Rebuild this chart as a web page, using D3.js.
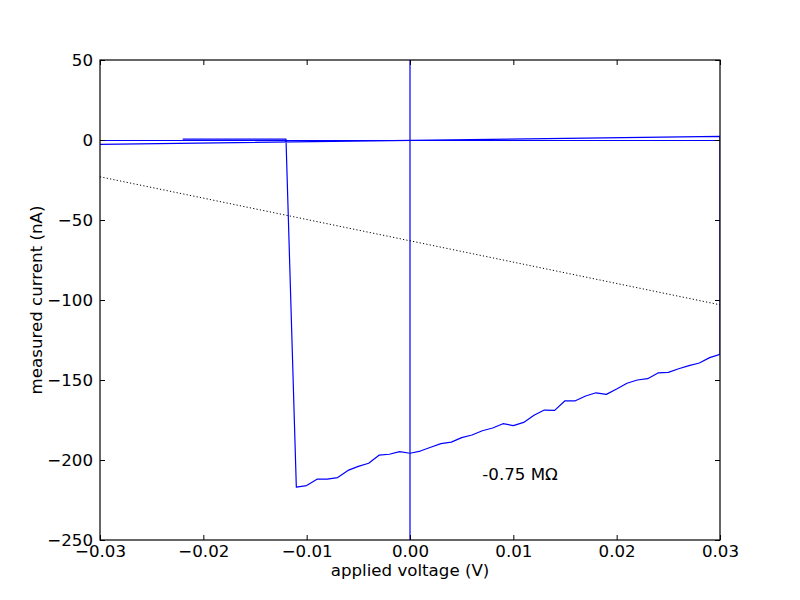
<!DOCTYPE html>
<html>
<head>
<meta charset="utf-8">
<script src="https://cdn.jsdelivr.net/npm/d3@7"></script>
<style>
  body { margin: 0; background: #fff; }
  svg text { font-family: "DejaVu Sans", sans-serif; }
</style>
</head>
<body>
<div id="chart"><svg></svg></div>
<script>
// sweep: plateau, jump, rising branch, back up at +30 mV, return line
var voltage = [
  -0.022, -0.012, -0.011, -0.010, -0.009, -0.008, -0.007, -0.006, -0.005,
  -0.004, -0.003, -0.002, -0.001, 0.000, 0.001, 0.002, 0.003, 0.004, 0.005,
  0.006, 0.007, 0.008, 0.009, 0.010, 0.011, 0.012, 0.013, 0.014, 0.015,
  0.016, 0.017, 0.018, 0.019, 0.020, 0.021, 0.022, 0.023, 0.024, 0.025,
  0.026, 0.027, 0.028, 0.029, 0.030, 0.030, -0.030
];
var current = [
  0.5, 0.5, -217, -216, -212, -212, -211, -206.5, -204,
  -202, -197, -196.4, -194.8, -195.8, -194.4, -192, -189.8, -188.8, -186,
  -184.4, -181.7, -180, -177.3, -178.5, -176.5, -172, -168.8, -169, -163,
  -163, -160, -158, -159, -155.6, -152, -150, -149.2, -145.6, -145.2,
  -143, -141, -139.4, -136, -134, 2.3, -2.7
];

// linear fit shown dotted
var fitVoltage = [-0.03, 0.03];
var fitCurrent = [-23, -103];

var xTicks = [-0.03, -0.02, -0.01, 0.0, 0.01, 0.02, 0.03];
var yTicks = [-250, -200, -150, -100, -50, 0, 50];

var note = "-0.75 MΩ";
var noteAt = [0.007, -212.5];

var margin = { top: 60, right: 80, bottom: 60, left: 100 };
var width = 800 - margin.left - margin.right;
var height = 600 - margin.top - margin.bottom;
var fontSize = "16.67px";

var svg = d3.select("#chart > svg")
  .attr("width", 800)
  .attr("height", 600);

var g = svg.append("g")
  .attr("transform", `translate(${margin.left}, ${margin.top})`);

var x = d3.scaleLinear().domain([-0.03, 0.03]).range([0, width]);
var y = d3.scaleLinear().domain([-250, 50]).range([height, 0]);

var fmtMinus = s => s.replace("-", "\u2212");

// clip for data lines
g.append("clipPath").attr("id", "clip")
  .append("rect").attr("width", width).attr("height", height);

var plot = g.append("g").attr("clip-path", "url(#clip)");

// zero lines
plot.append("line")
  .attr("x1", 0).attr("x2", width)
  .attr("y1", y(0) + 0.5).attr("y2", y(0) + 0.5)
  .attr("stroke", "#0000ff").attr("stroke-width", 1.2);
plot.append("line")
  .attr("x1", x(0)).attr("x2", x(0))
  .attr("y1", 0).attr("y2", height)
  .attr("stroke", "#0000ff").attr("stroke-width", 1.2);

var pts = voltage.map((v, i) => [v, current[i]]);
plot.append("path")
  .datum(pts)
  .attr("fill", "none")
  .attr("stroke", "#0000ff")
  .attr("stroke-width", 1.2)
  .attr("stroke-linejoin", "round")
  .attr("d", d3.line().x(d => x(d[0])).y(d => y(d[1])));

var fitPts = fitVoltage.map((v, i) => [v, fitCurrent[i]]);
plot.append("path")
  .datum(fitPts)
  .attr("fill", "none")
  .attr("stroke", "#000")
  .attr("stroke-width", 1)
  .attr("stroke-dasharray", "1.2,2.2")
  .attr("d", d3.line().x(d => x(d[0])).y(d => y(d[1])));

g.append("text")
  .attr("x", x(noteAt[0]))
  .attr("y", y(noteAt[1]))
  .attr("font-size", fontSize)
  .text(note);

// axes, ticks inside on all sides
var xb = g.append("g").attr("transform", `translate(0,${height})`)
  .call(d3.axisBottom(x).tickValues(xTicks).tickSizeInner(-5).tickSizeOuter(0)
    .tickPadding(5).tickFormat(d => fmtMinus(d3.format(".2f")(d))));
var xt = g.append("g")
  .call(d3.axisTop(x).tickValues(xTicks).tickSizeInner(-5).tickSizeOuter(0)
    .tickFormat(""));
var yl = g.append("g")
  .call(d3.axisLeft(y).tickValues(yTicks).tickSizeInner(-5).tickSizeOuter(0)
    .tickPadding(7).tickFormat(d => fmtMinus(String(d))));
var yr = g.append("g").attr("transform", `translate(${width},0)`)
  .call(d3.axisRight(y).tickValues(yTicks).tickSizeInner(-5).tickSizeOuter(0)
    .tickFormat(""));

[xb, xt, yl, yr].forEach(a => {
  a.select(".domain").remove();
  a.selectAll("text").attr("font-size", fontSize).attr("fill", "#000")
    .style("font-family", "DejaVu Sans");
  a.selectAll("line").attr("stroke", "#000");
});

g.append("rect")
  .attr("width", width).attr("height", height)
  .attr("fill", "none").attr("stroke", "#000").attr("stroke-width", 1.2);

g.append("text")
  .attr("x", width / 2).attr("y", height + 36)
  .attr("text-anchor", "middle")
  .attr("font-size", fontSize)
  .text("applied voltage (V)");

g.append("text")
  .attr("transform", `translate(-58,${height / 2}) rotate(-90)`)
  .attr("text-anchor", "middle")
  .attr("font-size", fontSize)
  .text("measured current (nA)");
</script>
</body>
</html>
